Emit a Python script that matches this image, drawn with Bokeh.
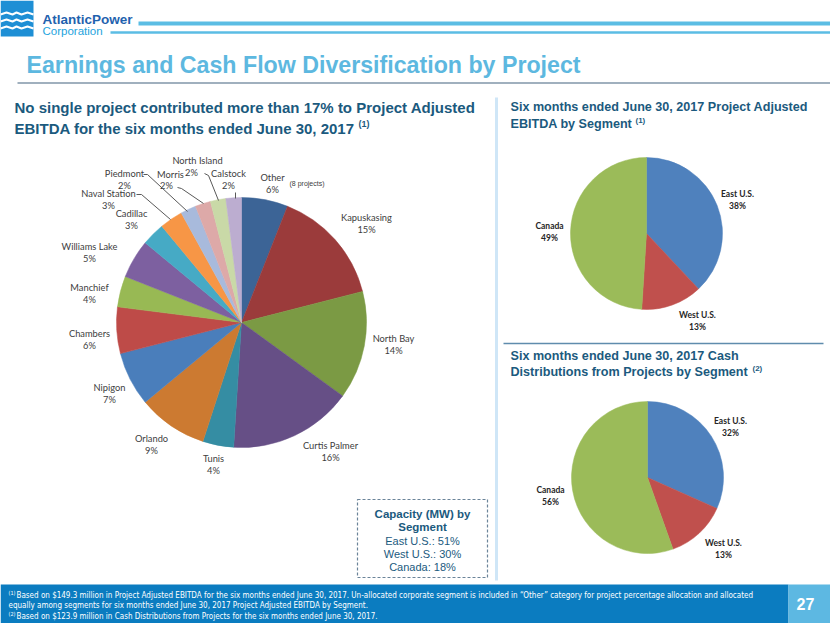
import numpy as np
from bokeh.plotting import figure
from bokeh.models import Range1d, ColumnDataSource
from bokeh.core.properties import value
from bokeh.embed import file_html
from bokeh.resources import INLINE

# ---------------- data ----------------
projects = ["Other", "Kapuskasing", "North Bay", "Curtis Palmer", "Tunis", "Orlando",
            "Nipigon", "Chambers", "Manchief", "Williams Lake", "Cadillac",
            "Naval Station", "Piedmont", "Morris", "North Island", "Calstock"]
project_pct = [6, 15, 14, 16, 4, 9, 7, 6, 4, 5, 3, 3, 2, 2, 2, 2]
project_colors = ["#3C6496", "#9B3B3B", "#7B9A44", "#664F86", "#358DA3", "#CC7A31",
                  "#4A7EBB", "#BE4B48", "#98B954", "#7D60A0", "#46AAC5", "#F79646",
                  "#A8BADC", "#DDA9A8", "#C9D9A7", "#BCADD0"]

segments = ["East U.S.", "West U.S.", "Canada"]
ebitda_pct = [38, 13, 49]
cash_pct = [32, 13, 56]
segment_colors = ["#4F81BD", "#C0504D", "#9BBB59"]

capacity_segments = ["East U.S.", "West U.S.", "Canada"]
capacity_pct = [51, 30, 18]

# ---------------- layout helpers ----------------
W, H = 830, 623
p = figure(width=W, height=H, output_backend="svg", toolbar_location=None,
           x_range=Range1d(0, W), y_range=Range1d(-H, 0),
           min_border=0, background_fill_color="white", border_fill_color="white")
p.axis.visible = False
p.grid.visible = False
p.outline_line_color = None

def Y(v):
    return -v

def txt(x, y, s, size, color="#404040", font="Liberation Sans", style="normal",
        align="left", baseline="middle"):
    p.text(x=[x], y=[Y(y)], text=[s], text_font=value(font), text_font_size=f"{size}px",
           text_color=color, text_font_style=style, text_align=align, text_baseline=baseline)

def pie(cx, cy, r, vals, colors):
    vals = np.asarray(vals, dtype=float)
    frac = vals / vals.sum()
    cum = np.concatenate([[0], np.cumsum(frac)])
    start = np.pi / 2 - 2 * np.pi * cum[:-1]
    end = np.pi / 2 - 2 * np.pi * cum[1:]
    src = ColumnDataSource(dict(start=start, end=end, color=colors))
    p.wedge(x=cx, y=Y(cy), radius=r, start_angle="start", end_angle="end",
            direction="clock", fill_color="color", line_color="color",
            line_width=0.5, source=src)

# ---------------- header ----------------
p.quad(left=[0], right=[33], top=[Y(0)], bottom=[Y(36)], fill_color="#1E8FD5", line_color=None)
for yy in (12, 19, 26):
    p.line(x=[0, 6, 12, 16, 21, 27, 33], y=[Y(yy + 2), Y(yy), Y(yy + 2), Y(yy), Y(yy + 2), Y(yy), Y(yy + 2)],
           line_color="white", line_width=2)
txt(42, 19, "AtlanticPower", 13.5, color="#1F62AE", style="bold")
txt(42, 30, "Corporation", 11.5, color="#23A3DD")
p.line(x=[138, 830], y=[Y(23), Y(23)], line_color="#5BBDE4", line_width=4)
p.line(x=[110, 830], y=[Y(32), Y(32)], line_color="#5BBDE4", line_width=2.5)

txt(26, 64, "Earnings and Cash Flow Diversification by Project", 23.2, color="#5DB8E0",
    style="bold")
p.line(x=[17, 830], y=[Y(82.5), Y(82.5)], line_color="#8096A8", line_width=1.5)

# ---------------- left section ----------------
sub_color = "#1B5A7E"
txt(14, 107, "No single project contributed more than 17% to Project Adjusted", 15,
    color=sub_color, style="bold")
txt(14, 128, "EBITDA for the six months ended June 30, 2017", 15, color=sub_color,
    style="bold")
txt(358, 123, "(1)", 9, color=sub_color, style="bold")

pie(241, 322, 125, project_pct, project_colors)

label_pos = {
    "Other": (272, 177), "Kapuskasing": (366, 217), "North Bay": (393, 338),
    "Curtis Palmer": (330, 445), "Tunis": (213, 458), "Orlando": (151, 438),
    "Nipigon": (109, 387), "Chambers": (89, 333), "Manchief": (89, 287),
    "Williams Lake": (89, 246), "Cadillac": (131, 213), "Naval Station": (108, 193),
    "Piedmont": (124, 173), "Morris": (170, 174), "North Island": (197, 160),
    "Calstock": (228, 173),
}
for name, pct in zip(projects, project_pct):
    lx, ly = label_pos[name]
    if name == "Morris":
        txt(lx, ly, name, 9.3, font="Lato", align="center")
        txt(lx - 4, ly + 11, f"{pct}%", 9.3, font="Lato", align="center")
    elif name == "North Island":
        txt(lx, ly, name, 9.3, font="Lato", align="center")
        txt(lx - 6, ly + 12, f"{pct}%", 9.3, font="Lato", align="center")
    else:
        txt(lx, ly, name, 9.3, font="Lato", align="center")
        txt(lx, ly + 12, f"{pct}%", 9.3, font="Lato", align="center")
txt(289, 183, "(8 projects)", 7, color="#404040", font="Liberation Sans")

leaders = [
    [(136, 194), (141, 194), (170, 219)],
    [(143, 174), (147, 174), (187, 211)],
    [(177, 187), (181, 188), (203, 203)],
    [(204, 173), (208, 175), (218, 200)],
    [(235, 192), (235, 198)],
]
for seg in leaders:
    p.line(x=[a for a, b in seg], y=[Y(b) for a, b in seg], line_color="#595959",
           line_width=1)

# capacity box
p.quad(left=[357], right=[487], top=[Y(499)], bottom=[Y(577)], fill_color=None,
       line_color="#6B8499", line_width=1.2, line_dash="3 2")
txt(422, 513, "Capacity (MW) by", 11.5, color=sub_color, style="bold", align="center")
txt(422, 526, "Segment", 11.5, color=sub_color, style="bold", align="center")
for i, (s, v) in enumerate(zip(capacity_segments, capacity_pct)):
    txt(422, 540 + 13 * i, f"{s}: {v}%", 11, color=sub_color, align="center")

# vertical separator
p.line(x=[496, 496], y=[Y(97), Y(580)], line_color="#CFE6F7", line_width=3)

# ---------------- right section ----------------
txt(510, 106, "Six months ended June 30, 2017 Project Adjusted", 12.6, color=sub_color,
    style="bold")
txt(510, 123, "EBITDA by Segment", 12.6, color=sub_color, style="bold")
txt(635, 120, "(1)", 8, color=sub_color, style="bold")

pie(646, 233, 76, ebitda_pct, segment_colors)
seg_pos1 = [(737, 193), (697, 314), (549, 225)]
for s, v, (lx, ly) in zip(segments, ebitda_pct, seg_pos1):
    txt(lx, ly, s, 8.5, color="#262626", font="Lato", style="bold", align="center")
    txt(lx, ly + 12, f"{v}%", 8.5, color="#262626", font="Lato", style="bold", align="center")

p.line(x=[503, 823], y=[Y(343), Y(343)], line_color="#5F8CAD", line_width=1.5)

txt(510, 355, "Six months ended June 30, 2017 Cash", 12.6, color=sub_color, style="bold")
txt(510, 371, "Distributions from Projects by Segment", 12.6, color=sub_color, style="bold")
txt(752, 368, "(2)", 8, color=sub_color, style="bold")

pie(647, 477, 76, cash_pct, segment_colors)
seg_pos2 = [(730, 420), (723, 542), (550, 489)]
for s, v, (lx, ly) in zip(segments, cash_pct, seg_pos2):
    txt(lx, ly, s, 8.5, color="#262626", font="Lato", style="bold", align="center")
    txt(lx, ly + 12, f"{v}%", 8.5, color="#262626", font="Lato", style="bold", align="center")

# ---------------- footer ----------------
p.quad(left=[0], right=[788], top=[Y(584)], bottom=[Y(623)], fill_color="#0B7CC0",
       line_color=None)
p.quad(left=[788], right=[830], top=[Y(584)], bottom=[Y(623)], fill_color="#5DB8E2",
       line_color=None)
txt(805, 603, "27", 16, color="white", style="bold", align="center")
fn = "DejaVu Sans Condensed"
txt(8, 592, "(1)", 5.5, color="white", font=fn)
txt(16, 594.5, "Based on $149.3 million in Project Adjusted EBITDA for the six months ended June 30, 2017.   "
    "Un-allocated corporate segment is included in \u201cOther\u201d category for  project percentage "
    "allocation and allocated", 8, color="white", font=fn)
txt(8, 604.5, "equally among segments for six months ended June 30, 2017 Project Adjusted EBITDA by Segment.",
    8, color="white", font=fn)
txt(8, 613, "(2)", 5.5, color="white", font=fn)
txt(16, 615.5, "Based on $123.9 million in Cash Distributions from Projects for the six months ended June 30, 2017.",
    8, color="white", font=fn)

open("out.html", "w").write(file_html(p, INLINE))
